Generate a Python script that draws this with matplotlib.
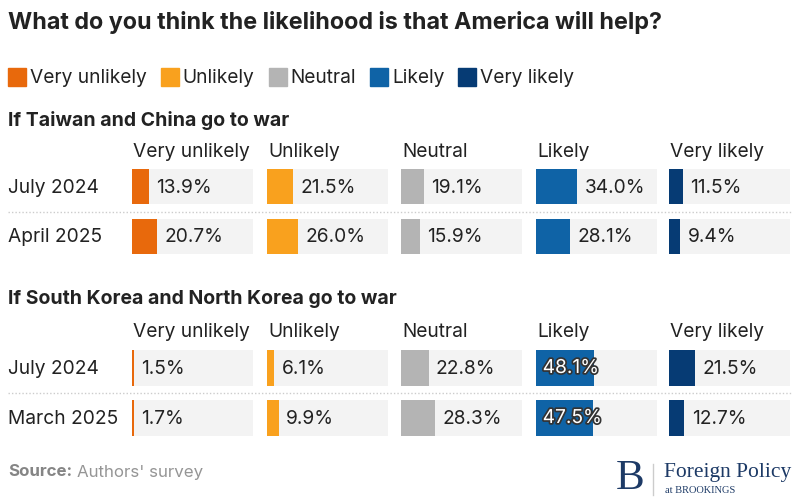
import matplotlib
matplotlib.use("Agg")
import matplotlib.pyplot as plt
import matplotlib.patheffects as pe

plt.rcParams['font.family'] = ['Inter', 'DejaVu Sans']

title = "What do you think the likelihood is that America will help?"
categories = ["Very unlikely", "Unlikely", "Neutral", "Likely", "Very likely"]
colors = ["#e8690c", "#f9a11e", "#b4b4b4", "#0f63a6", "#063b74"]

panel_titles = ["If Taiwan and China go to war",
                "If South Korea and North Korea go to war"]
panel_rows = [["July 2024", "April 2025"],
              ["July 2024", "March 2025"]]
# values[panel][row][category]
taiwan = [[13.9, 21.5, 19.1, 34.0, 11.5],
          [20.7, 26.0, 15.9, 28.1, 9.4]]
korea = [[1.5, 6.1, 22.8, 48.1, 21.5],
         [1.7, 9.9, 28.3, 47.5, 12.7]]
panels = [taiwan, korea]

W, H = 799, 502
fig = plt.figure(figsize=(W / 100, H / 100), dpi=100)
fig.patch.set_facecolor("white")

def fx(px):
    return px / W

def fy(py):
    return 1 - py / H

TXT = "#222222"
FS = 13.8

fig.text(fx(8), fy(22), title, fontsize=16.8, fontweight="bold", color=TXT,
         va="center", ha="left")

# legend
renderer = fig.canvas.get_renderer()
x = 8
for cat, col in zip(categories, colors):
    fig.patches.append(plt.Rectangle((fx(x), fy(87)), fx(18), 18 / H,
                                     transform=fig.transFigure, color=col))
    t = fig.text(fx(x + 22), fy(78), cat, fontsize=FS, color=TXT,
                 va="center", ha="left")
    bb = t.get_window_extent(renderer)
    x = x + 22 + bb.width + 14

col_left = [132, 267, 401, 536, 669]
col_w = 121
panel_title_y = [121, 299]
header_y = [152, 332]
axes_top = [163, 344]
pitch = [49.5, 50]
sep_y = [213, 394]

for p in range(2):
    fig.text(fx(8), fy(panel_title_y[p]), panel_titles[p], fontsize=14,
             fontweight="bold", color=TXT, va="center", ha="left")
    for c, cat in enumerate(categories):
        fig.text(fx(col_left[c] + 1), fy(header_y[p]), cat, fontsize=FS,
                 color=TXT, va="center", ha="left")
    for r, lab in enumerate(panel_rows[p]):
        fig.text(fx(8), fy(axes_top[p] + pitch[p] * (r + 0.5)), lab,
                 fontsize=FS, color=TXT, va="center", ha="left")
    # dotted separator
    fig.add_artist(plt.Line2D([fx(8), fx(791)], [fy(sep_y[p])] * 2,
                              transform=fig.transFigure, color="#cccccc",
                              linestyle=(0, (1, 1.5)), linewidth=1))
    ah = 2 * pitch[p]
    for c in range(5):
        ax = fig.add_axes([fx(col_left[c]), fy(axes_top[p] + ah),
                           fx(col_w), ah / H])
        ax.set_xlim(0, 100)
        ax.set_ylim(1.5, -0.5)
        ax.axis("off")
        vals = [panels[p][r][c] for r in range(2)]
        ax.barh([0, 1], [100, 100], height=0.71, color="#f3f3f3", left=0)
        ax.barh([0, 1], vals, height=0.71, color=colors[c])
        for r, v in enumerate(vals):
            label = f"{v:.1f}%"
            if v >= 40:
                ax.text(5.5, r, label, fontsize=FS, color="white",
                        va="center", ha="left",
                        path_effects=[pe.withStroke(linewidth=2.5,
                                                    foreground="#333333")])
            else:
                ax.text(v + 6, r, label, fontsize=FS, color=TXT,
                        va="center", ha="left")

# source
s = fig.text(fx(8), fy(472), "Source:", fontsize=12.2, fontweight="bold",
             color="#858585", va="center", ha="left")
bb = s.get_window_extent(renderer)
fig.text(fx(8 + bb.width + 5), fy(472), "Authors' survey", fontsize=12.2,
         color="#959595", va="center", ha="left")

# logo
navy = "#1d3a66"
fig.text(fx(616), fy(479), "B", fontsize=31, family="Liberation Serif",
         color=navy, va="center", ha="left")
fig.add_artist(plt.Line2D([fx(653), fx(653)], [fy(465), fy(496)],
                          transform=fig.transFigure, color="#cccccc",
                          linewidth=1))
fig.text(fx(664), fy(472), "Foreign Policy", fontsize=15.5,
         family="Liberation Serif", color=navy, va="center", ha="left")
fig.text(fx(665), fy(491), "at BROOKINGS", fontsize=7.5,
         family="Liberation Serif", color=navy, va="center", ha="left")

fig.savefig("out.png", dpi=100)
